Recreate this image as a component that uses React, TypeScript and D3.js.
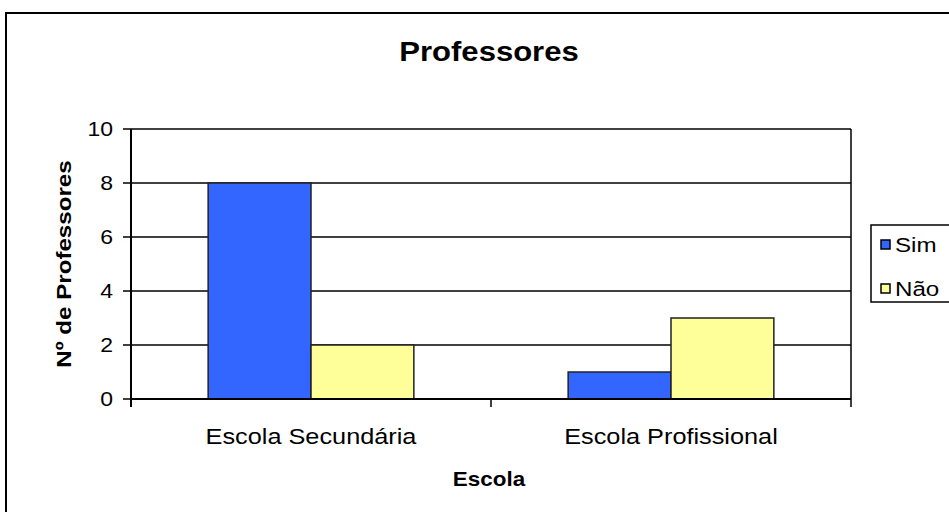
import React, { useEffect, useRef } from 'react';
import * as d3 from 'd3';

const categories = ['Escola Secundária', 'Escola Profissional'];
const seriesNames = ['Sim', 'Não'];
const simValues = [8, 1];
const naoValues = [2, 3];
const yTicks = [0, 2, 4, 6, 8, 10];
const colors = ['#3366FF', '#FFFF99'];

const App = () => {
  const svgRef = useRef<SVGSVGElement>(null);

  useEffect(() => {
    const width = 949;
    const height = 512;
    const margin = { left: 131, right: 98, top: 129, bottom: 113 };
    const stretch = 1.15;
    const font = 'Arial, "Liberation Sans", sans-serif';

    const svg = d3.select(svgRef.current).attr('width', width).attr('height', height);
    svg.selectAll('*').remove();

    // outer frame (runs off the right and bottom edge)
    svg
      .append('rect')
      .attr('x', 6)
      .attr('y', 13)
      .attr('width', 1000)
      .attr('height', 600)
      .attr('fill', 'white')
      .attr('stroke', 'black')
      .attr('stroke-width', 2);

    const innerW = width - margin.left - margin.right;
    const innerH = height - margin.top - margin.bottom;

    const g = svg.append('g').attr('transform', `translate(${margin.left}, ${margin.top})`);

    const x = d3.scaleBand().domain(categories).range([0, innerW]);
    const barW = x.bandwidth() / 3.5;
    const xSeries = d3
      .scaleBand()
      .domain(seriesNames)
      .range([x.bandwidth() / 2 - barW, x.bandwidth() / 2 + barW]);

    const y = d3.scaleLinear().domain([0, 10]).range([innerH, 0]);

    // gridlines
    g.selectAll('.grid')
      .data(yTicks.filter((t) => t > 0))
      .enter()
      .append('line')
      .attr('x1', 0)
      .attr('x2', innerW)
      .attr('y1', (d) => y(d))
      .attr('y2', (d) => y(d))
      .attr('stroke', 'black')
      .attr('stroke-width', 1.3);

    // right border of plot area
    g.append('line')
      .attr('x1', innerW)
      .attr('x2', innerW)
      .attr('y1', 0)
      .attr('y2', innerH)
      .attr('stroke', 'black')
      .attr('stroke-width', 1.5);

    const rows = categories.map((c, i) => ({ cat: c, values: [simValues[i], naoValues[i]] }));

    const groups = g
      .selectAll('.group')
      .data(rows)
      .enter()
      .append('g')
      .attr('transform', (d) => `translate(${x(d.cat)}, 0)`);

    groups
      .selectAll('rect')
      .data((d) => d.values.map((v, j) => ({ name: seriesNames[j], v, j })))
      .enter()
      .append('rect')
      .attr('x', (d) => xSeries(d.name) as number)
      .attr('y', (d) => y(d.v))
      .attr('width', xSeries.bandwidth())
      .attr('height', (d) => innerH - y(d.v))
      .attr('fill', (d) => colors[d.j])
      .attr('stroke', '#222')
      .attr('stroke-width', 1.5);

    // y axis
    g.append('line')
      .attr('x1', 0)
      .attr('x2', 0)
      .attr('y1', 0)
      .attr('y2', innerH + 8)
      .attr('stroke', 'black')
      .attr('stroke-width', 2);
    g.selectAll('.ytick')
      .data(yTicks)
      .enter()
      .append('line')
      .attr('x1', -8)
      .attr('x2', 0)
      .attr('y1', (d) => y(d))
      .attr('y2', (d) => y(d))
      .attr('stroke', 'black')
      .attr('stroke-width', 1.5);
    g.selectAll('.ylabel')
      .data(yTicks)
      .enter()
      .append('text')
      .attr('transform', (d) => `translate(-18, ${y(d) + 7}) scale(${stretch}, 1)`)
      .attr('text-anchor', 'end')
      .attr('font-family', font)
      .attr('font-size', 20)
      .text((d) => d);

    // x axis
    g.append('line')
      .attr('x1', 0)
      .attr('x2', innerW)
      .attr('y1', innerH)
      .attr('y2', innerH)
      .attr('stroke', 'black')
      .attr('stroke-width', 2);
    const bounds = [0, ...categories.map((c) => (x(c) as number) + x.bandwidth())];
    g.selectAll('.xtick')
      .data(bounds)
      .enter()
      .append('line')
      .attr('x1', (d) => d)
      .attr('x2', (d) => d)
      .attr('y1', innerH)
      .attr('y2', innerH + 8)
      .attr('stroke', 'black')
      .attr('stroke-width', 1.5);
    g.selectAll('.xlabel')
      .data(categories)
      .enter()
      .append('text')
      .attr(
        'transform',
        (d) => `translate(${(x(d) as number) + x.bandwidth() / 2}, ${innerH + 45}) scale(${stretch}, 1)`
      )
      .attr('text-anchor', 'middle')
      .attr('font-family', font)
      .attr('font-size', 22)
      .text((d) => d);

    // title
    svg
      .append('text')
      .attr('transform', `translate(489, 61) scale(${stretch}, 1)`)
      .attr('text-anchor', 'middle')
      .attr('font-family', font)
      .attr('font-weight', 'bold')
      .attr('font-size', 27)
      .text('Professores');

    // x axis title
    svg
      .append('text')
      .attr('transform', `translate(489, 486) scale(${stretch}, 1)`)
      .attr('text-anchor', 'middle')
      .attr('font-family', font)
      .attr('font-weight', 'bold')
      .attr('font-size', 19.5)
      .text('Escola');

    // y axis title
    svg
      .append('text')
      .attr('transform', `translate(71, 264) rotate(-90) scale(${stretch}, 1)`)
      .attr('text-anchor', 'middle')
      .attr('font-family', font)
      .attr('font-weight', 'bold')
      .attr('font-size', 21)
      .text('Nº de Professores');

    // legend
    const legend = svg.append('g').attr('transform', 'translate(871, 225)');
    legend
      .append('rect')
      .attr('width', 200)
      .attr('height', 77)
      .attr('fill', 'white')
      .attr('stroke', 'black')
      .attr('stroke-width', 1.5);
    const items = legend
      .selectAll('.item')
      .data(seriesNames)
      .enter()
      .append('g')
      .attr('transform', (d, i) => `translate(10, ${19 + i * 44})`);
    items
      .append('rect')
      .attr('x', 0)
      .attr('y', -4)
      .attr('width', 9)
      .attr('height', 9)
      .attr('fill', (d, i) => colors[i])
      .attr('stroke', 'black')
      .attr('stroke-width', 1.5);
    items
      .append('text')
      .attr('transform', `translate(14, 8) scale(${stretch}, 1)`)
      .attr('font-family', font)
      .attr('font-size', 21)
      .text((d) => d);
  }, []);

  return (
    <div style={{ position: 'absolute', left: 0, top: 0 }}>
      <svg ref={svgRef}></svg>
    </div>
  );
};

export default App;
